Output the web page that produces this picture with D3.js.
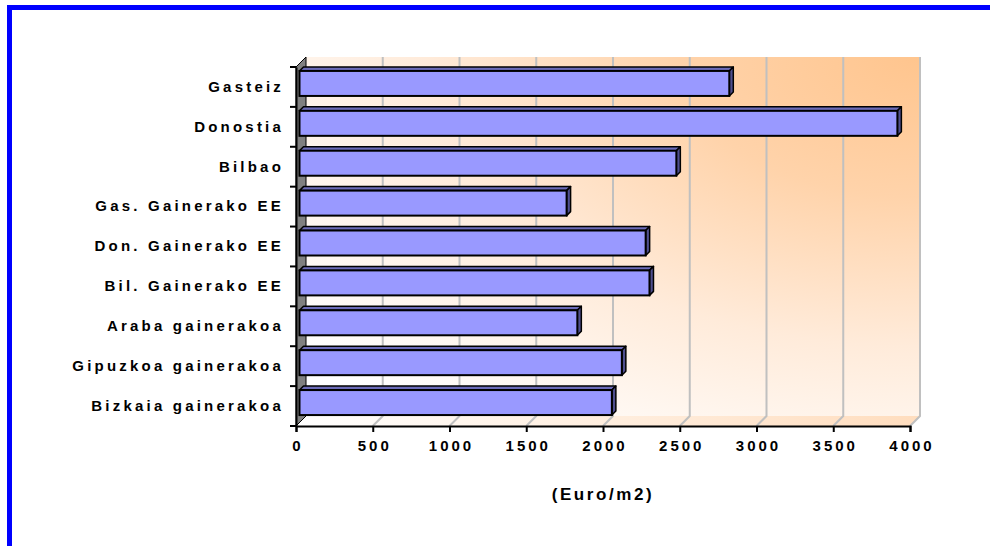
<!DOCTYPE html>
<html>
<head>
<meta charset="utf-8">
<script src="https://cdn.jsdelivr.net/npm/d3@7/dist/d3.min.js"></script>
<style>
  html, body { margin: 0; padding: 0; background: #fff; }
  svg text { font-family: "Liberation Sans", Arial, sans-serif; font-weight: bold; fill: #000; }
</style>
</head>
<body>
<svg id="chart" width="990" height="546"></svg>
<script>
// Housing price by area (Euro/m2)
const categories = [
  "Gasteiz", "Donostia", "Bilbao",
  "Gas. Gainerako EE", "Don. Gainerako EE", "Bil. Gainerako EE",
  "Araba gainerakoa", "Gipuzkoa gainerakoa", "Bizkaia gainerakoa"
];
const prices = [2800, 3895, 2455, 1740, 2255, 2280, 1810, 2100, 2035];
const xTicks = [0, 500, 1000, 1500, 2000, 2500, 3000, 3500, 4000];
const axisTitle = "(Euro/m2)";

const svg = d3.select("#chart");
const defs = svg.append("defs");

// frame
svg.append("rect").attr("x", 7).attr("y", 5).attr("width", 983).attr("height", 5).attr("fill", "#0000FF");
svg.append("rect").attr("x", 7).attr("y", 5).attr("width", 5).attr("height", 541).attr("fill", "#0000FF");

// 3D geometry
const depth = 10;            // wall depth offset (x right, y up)
const front = { left: 296, right: 910, top: 67, bottom: 426 };

const x = d3.scaleLinear().domain([0, 4000]).range([front.left, front.right]);
const y = d3.scaleBand().domain(categories).range([front.top, front.bottom]).paddingInner(0).paddingOuter(0);

// background gradient: orange in the top-right corner fading to white
const grad = defs.append("radialGradient")
  .attr("id", "wallGrad")
  .attr("cx", 1).attr("cy", 0).attr("fx", 1).attr("fy", 0).attr("r", 1.3);
grad.append("stop").attr("offset", 0).attr("stop-color", "#FFC58E");
grad.append("stop").attr("offset", 0.3).attr("stop-color", "#FFD3AA");
grad.append("stop").attr("offset", 0.62).attr("stop-color", "#FFEBDA");
grad.append("stop").attr("offset", 0.85).attr("stop-color", "#FFF8F2");
grad.append("stop").attr("offset", 1).attr("stop-color", "#FFFFFF");

const plot = svg.append("g");

// back wall
plot.append("rect")
  .attr("x", front.left + depth).attr("y", front.top - depth)
  .attr("width", front.right - front.left).attr("height", front.bottom - front.top)
  .attr("fill", "url(#wallGrad)");

// floor
const floorGrad = defs.append("linearGradient").attr("id", "floorGrad")
  .attr("x1", 0).attr("x2", 1).attr("y1", 0).attr("y2", 0);
floorGrad.append("stop").attr("offset", 0).attr("stop-color", "#FFFFFF");
floorGrad.append("stop").attr("offset", 1).attr("stop-color", "#FFDDBE");
plot.append("path")
  .attr("d", `M${front.left},${front.bottom}L${front.right},${front.bottom}L${front.right + depth},${front.bottom - depth}L${front.left + depth},${front.bottom - depth}Z`)
  .attr("fill", "url(#floorGrad)");

// gridlines on back wall and floor
const grid = plot.append("g").attr("stroke", "#C0C0C0").attr("stroke-width", 2).attr("fill", "none");
xTicks.filter(t => t > 0).forEach(t => {
  grid.append("path")
    .attr("d", `M${x(t)},${front.bottom}L${x(t) + depth},${front.bottom - depth}L${x(t) + depth},${front.top - depth}`);
});

// left side wall
plot.append("path")
  .attr("d", `M${front.left},${front.top}L${front.left + depth},${front.top - depth}L${front.left + depth},${front.bottom - depth}L${front.left},${front.bottom}Z`)
  .attr("fill", "#808080").attr("stroke", "#000").attr("stroke-width", 1);

// bars
const barFront = 3.5, barDepth = 4;
const barH = 25;
const bars = plot.append("g").selectAll("g").data(categories).join("g");
bars.each(function (c, i) {
  const g = d3.select(this);
  const v = prices[i];
  const x0 = x(0) + barFront, x1 = x(v) + barFront;
  const yc = y(c) + y.bandwidth() / 2 - barFront;
  const y0 = yc - barH / 2, y1 = yc + barH / 2;
  const d = barDepth;
  // top face
  g.append("path")
    .attr("d", `M${x0},${y0}L${x0 + d},${y0 - d}L${x1 + d},${y0 - d}L${x1},${y0}Z`)
    .attr("fill", "#6B6BB8").attr("stroke", "#000").attr("stroke-width", 1.5).attr("stroke-linejoin", "round");
  // end face
  g.append("path")
    .attr("d", `M${x1},${y0}L${x1 + d},${y0 - d}L${x1 + d},${y1 - d}L${x1},${y1}Z`)
    .attr("fill", "#4F4F8F").attr("stroke", "#000").attr("stroke-width", 1.5).attr("stroke-linejoin", "round");
  // front face
  g.append("rect")
    .attr("x", x0).attr("y", y0).attr("width", x1 - x0).attr("height", barH)
    .attr("fill", "#9999FF").attr("stroke", "#000").attr("stroke-width", 2);
});

// category axis
const yAxis = svg.append("g").attr("transform", `translate(${front.left},0)`)
  .call(d3.axisLeft(y).tickSize(0).tickPadding(12));
yAxis.select(".domain").attr("stroke", "#000").attr("stroke-width", 2);
yAxis.selectAll("text").attr("font-size", 15).attr("letter-spacing", "3.2px");
// boundary ticks between categories
const bounds = categories.map(c => y(c)).concat([front.bottom]);
yAxis.selectAll(".bound").data(bounds).join("line")
  .attr("class", "bound")
  .attr("x1", -6).attr("x2", 0).attr("y1", d => d).attr("y2", d => d)
  .attr("stroke", "#000").attr("stroke-width", 2);

// value axis
const xAxis = svg.append("g").attr("transform", `translate(0,${front.bottom})`)
  .call(d3.axisBottom(x).tickValues(xTicks).tickSize(6).tickPadding(8).tickFormat(d3.format("d")));
xAxis.select(".domain").attr("stroke", "#000").attr("stroke-width", 2);
xAxis.selectAll(".tick line").attr("stroke", "#000").attr("stroke-width", 2);
xAxis.selectAll("text").attr("font-size", 15).attr("letter-spacing", "3px")
  .attr("dx", "1.5px");

// axis title
svg.append("text")
  .attr("x", 603).attr("y", 500)
  .attr("text-anchor", "middle")
  .attr("font-size", 17)
  .attr("letter-spacing", "2.6px")
  .text(axisTitle);
</script>
</body>
</html>
